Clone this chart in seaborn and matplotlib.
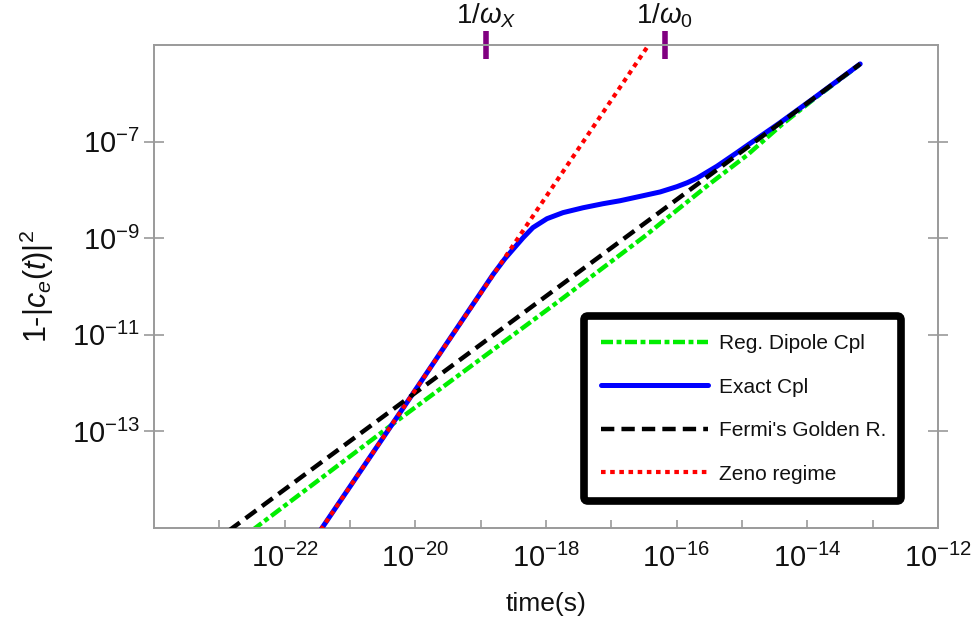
import numpy as np
import pandas as pd
import matplotlib
matplotlib.use("Agg")
import matplotlib.pyplot as plt
import seaborn as sns
from matplotlib.ticker import FixedLocator, NullLocator, NullFormatter

# curves (time in s, 1-|c_e(t)|^2)
t_dipole = [3.16e-23, 5.0e-21, 1.58e-18, 3.16e-17, 1.12e-16, 3.24e-16, 1.2e-15,
            3.98e-15, 1.26e-14, 6.46e-14]
y_dipole = [8.9e-16, 1.58e-13, 5.0e-11, 1.07e-9, 4.27e-9, 1.35e-8, 5.25e-8,
            2.19e-7, 7.6e-7, 4.0e-6]

t_exact = [3.55e-22, 1.0e-20, 6.9e-20, 1.55e-19, 2.36e-19, 4.45e-19, 6.3e-19, 1.035e-18,
           1.82e-18, 3.69e-18, 7.46e-18, 1.36e-17, 3.05e-17, 5.6e-17, 1.01e-16, 1.45e-16,
           2.05e-16, 4.15e-16, 8.4e-16, 1.19e-15, 3.8e-15, 1.23e-14, 6.46e-14]
y_exact = [9.1e-16, 7.2e-13, 3.5e-11, 1.78e-10, 3.8e-10, 1.02e-9, 1.66e-9, 2.54e-9,
           3.39e-9, 4.28e-9, 5.19e-9, 5.98e-9, 7.59e-9, 9.1e-9, 1.17e-8, 1.41e-8,
           1.75e-8, 3.1e-8, 5.94e-8, 8.26e-8, 2.45e-7, 7.76e-7, 4.07e-6]

t_fermi = [1.41e-23, 6.46e-14]
y_fermi = [8.9e-16, 4.07e-6]

t_zeno = [3.55e-22, 3.55e-17]
y_zeno = [9.1e-16, 9.1e-6]

labels = ["Reg. Dipole Cpl", "Exact Cpl", "Fermi's Golden R.", "Zeno regime"]

x_ticks = [1e-22, 1e-20, 1e-18, 1e-16, 1e-14, 1e-12]
x_tick_labels = [r"$10^{-22}$", r"$10^{-20}$", r"$10^{-18}$", r"$10^{-16}$", r"$10^{-14}$", r"$10^{-12}$"]
x_minor = [1e-23, 1e-21, 1e-19, 1e-17, 1e-15, 1e-13]
y_ticks = [1e-13, 1e-11, 1e-9, 1e-7]
y_tick_labels = [r"$10^{-13}$", r"$10^{-11}$", r"$10^{-9}$", r"$10^{-7}$"]

top_ticks = [1.2e-19, 6.6e-17]
top_labels = [r"$1/\omega_X$", r"$1/\omega_0$"]

sns.set_theme(style="white")
plt.rcParams["font.family"] = ["Liberation Sans", "DejaVu Sans"]
plt.rcParams["mathtext.fontset"] = "custom"
plt.rcParams["mathtext.rm"] = "Liberation Sans"
plt.rcParams["mathtext.it"] = "Liberation Sans:italic"
plt.rcParams["mathtext.bf"] = "Liberation Sans:bold"

fig, ax = plt.subplots(figsize=(9.78, 6.26), dpi=100)
fig.subplots_adjust(left=0.1575, right=0.959, bottom=0.1565, top=0.928)

sns.lineplot(x=t_dipole, y=y_dipole, ax=ax, color="#00ee00", lw=3.2,
             linestyle=(0, (2.7, 0.8, 1.1, 0.8)), label=labels[0], zorder=2, sort=False)
sns.lineplot(x=t_exact, y=y_exact, ax=ax, color="#0000ff", lw=3.6,
             label=labels[1], zorder=3, sort=False)
sns.lineplot(x=t_fermi, y=y_fermi, ax=ax, color="black", lw=3.2,
             linestyle=(0, (3.0, 1.6)), label=labels[2], zorder=4, sort=False)
sns.lineplot(x=t_zeno, y=y_zeno, ax=ax, color="#ff0000", lw=3.0,
             linestyle=(0, (1.1, 1.1)), label=labels[3], zorder=5, sort=False)

ax.set_xscale("log")
ax.set_yscale("log")
ax.set_xlim(1e-24, 1e-12)
ax.set_ylim(1e-15, 1e-5)

frame_col = "#9a9a9a"
for s in ax.spines.values():
    s.set_color(frame_col)
    s.set_linewidth(1.4)

ax.xaxis.set_major_locator(FixedLocator(x_ticks))
ax.set_xticklabels(x_tick_labels)
ax.xaxis.set_minor_locator(FixedLocator(x_minor))
ax.xaxis.set_minor_formatter(NullFormatter())
ax.yaxis.set_major_locator(FixedLocator(y_ticks))
ax.set_yticklabels(y_tick_labels)
ax.yaxis.set_minor_locator(NullLocator())

ax.tick_params(axis="x", which="both", direction="in", length=6, width=1.2,
               color=frame_col, bottom=True, top=False, labelsize=21, pad=11, labelcolor="#111111")
ax.tick_params(axis="y", which="major", direction="inout", length=14, width=1.2,
               color=frame_col, left=True, right=True, labelsize=21, pad=3, labelcolor="#111111")

ax.set_xlabel("time(s)", fontsize=19, color="#111111", labelpad=14)
ax.set_ylabel(r"1-$|c_e(t)|^2$", fontsize=22, color="#111111", labelpad=11)

# purple markers on the top edge
top = ax.secondary_xaxis("top")
top.xaxis.set_major_locator(FixedLocator(top_ticks))
top.set_xticklabels(top_labels)
top.xaxis.set_minor_locator(NullLocator())
top.spines["top"].set_visible(False)
top.tick_params(axis="x", which="major", direction="inout", length=20, width=4,
                color="#800080", labelsize=20, pad=1, labelcolor="#111111")

leg = ax.legend(loc="lower left", bbox_to_anchor=(0.548, 0.055, 0.405, 0.39), mode="expand",
                fontsize=15, handlelength=5.1, handletextpad=0.55, labelspacing=1.18,
                borderpad=0.85, borderaxespad=0, fancybox=True, framealpha=1)
leg.get_frame().set_edgecolor("black")
leg.get_frame().set_linewidth(5.5)
for txt in leg.get_texts():
    txt.set_color("#111111")

fig.savefig("out.png", dpi=100)
